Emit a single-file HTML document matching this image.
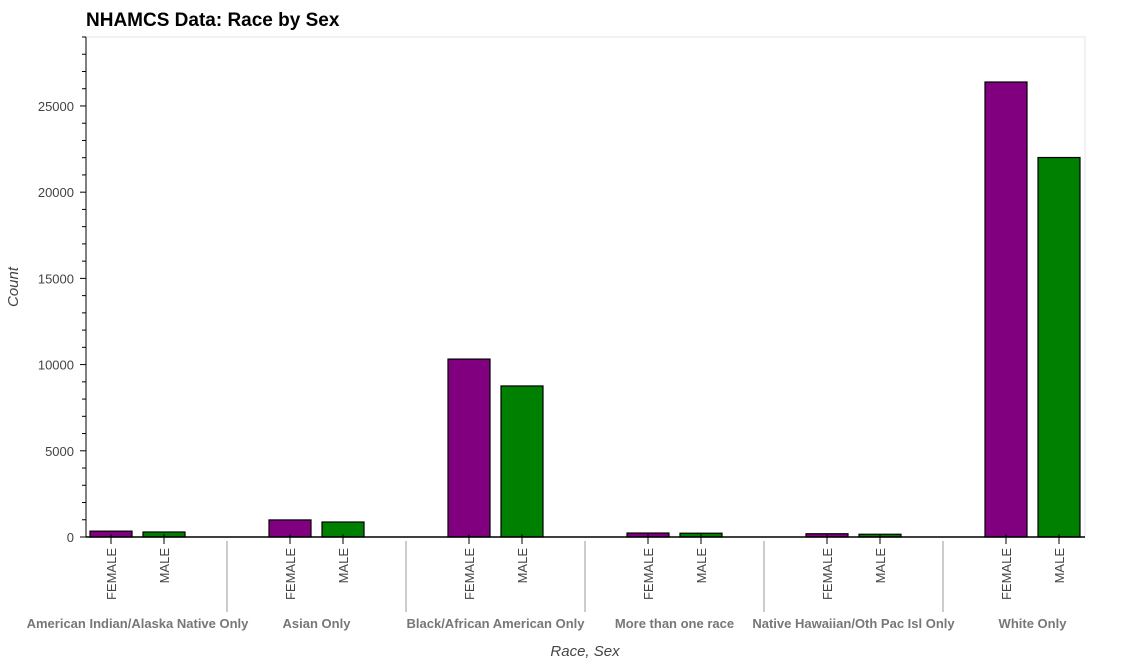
<!DOCTYPE html>
<html><head><meta charset="utf-8"><style>
body{margin:0;background:#fff;}
svg text{font-family:"Liberation Sans",Arial,sans-serif;}
</style></head><body>
<svg id="chart" width="1122" height="662" xmlns="http://www.w3.org/2000/svg">
<rect x="0" y="0" width="1122" height="662" fill="#fff"/>
<rect x="86" y="37" width="999" height="500" fill="none" stroke="#e5e5e5" stroke-width="1"/>
<text x="86" y="26" font-size="19" font-weight="bold" fill="#000">NHAMCS Data: Race by Sex</text>
<text x="18" y="287" font-size="15" font-style="italic" fill="#444" transform="rotate(-90 18 287)" text-anchor="middle">Count</text>
<text x="585" y="656" font-size="15" font-style="italic" fill="#444" text-anchor="middle">Race, Sex</text>
<g id="bars"></g><g id="yaxis"></g><g id="xaxis"></g>
</svg>
<script>
const groups=["American Indian/Alaska Native Only","Asian Only","Black/African American Only","More than one race","Native Hawaiian/Oth Pac Isl Only","White Only"];
const sexes=["FEMALE","MALE"];
const femaleValues=[340,990,10320,230,190,26390];
const maleValues=[290,870,8760,220,160,22010];
const yTicks=[0,5000,10000,15000,20000,25000];
const colors=["#800080","#008000"];
const NS="http://www.w3.org/2000/svg";
const x0=86,x1=1085,yTop=37,yBot=537,yMax=29000;
function y(v){return yBot-v/yMax*(yBot-yTop);}
const unit=53,gpad=73;
function xc(g,s){return 111+g*(2*unit+gpad)+s*unit;}
function mk(tag,attrs,parent){const e=document.createElementNS(NS,tag);for(const k in attrs)e.setAttribute(k,attrs[k]);parent.appendChild(e);return e;}
const bars=document.getElementById('bars'),ya=document.getElementById('yaxis'),xa=document.getElementById('xaxis');
groups.forEach((g,gi)=>{
 [femaleValues[gi],maleValues[gi]].forEach((v,si)=>{
  const c=xc(gi,si);
  const r=mk('rect',{x:c-21,y:y(v),width:42,height:yBot-y(v),fill:colors[si],stroke:'#000','stroke-width':1.2},bars);
  
  
  mk('line',{x1:c,x2:c,y1:yBot-3,y2:yBot+7,stroke:'#000','stroke-width':1},xa);
  const t=mk('text',{x:0,y:0,'font-size':13,fill:'#444','text-anchor':'end',transform:`translate(${c+5},${yBot+11}) rotate(-90)`},xa);
  t.textContent=sexes[si];
  
  
 });
 const mid=(xc(gi,0)+xc(gi,1))/2;
 const gt=mk('text',{x:mid,y:628,'font-size':13,'font-weight':'bold',fill:'#777','text-anchor':'middle'},xa);
 gt.textContent=g;
 
 
 if(gi<groups.length-1){
  const sx=(xc(gi,1)+xc(gi+1,0))/2;
  mk('line',{x1:sx,x2:sx,y1:541,y2:612,stroke:'#ccc','stroke-width':2},xa);
 }
});
mk('line',{x1:x0,x2:x1,y1:yBot,y2:yBot,stroke:'#000','stroke-width':1.5},xa);
mk('line',{x1:x0,x2:x0,y1:yTop,y2:yBot,stroke:'#000','stroke-width':1},ya);
for(let v=0;v<=yMax;v+=1000){
 const major=v%5000===0;
 mk('line',{x1:major?80:82,x2:x0,y1:y(v),y2:y(v),stroke:'#000','stroke-width':1},ya);
}
yTicks.forEach(v=>{
 const t=mk('text',{x:74,y:y(v)+5,'font-size':13,fill:'#444','text-anchor':'end'},ya);
 t.textContent=v;
 
 
});
</script>
</body></html>
